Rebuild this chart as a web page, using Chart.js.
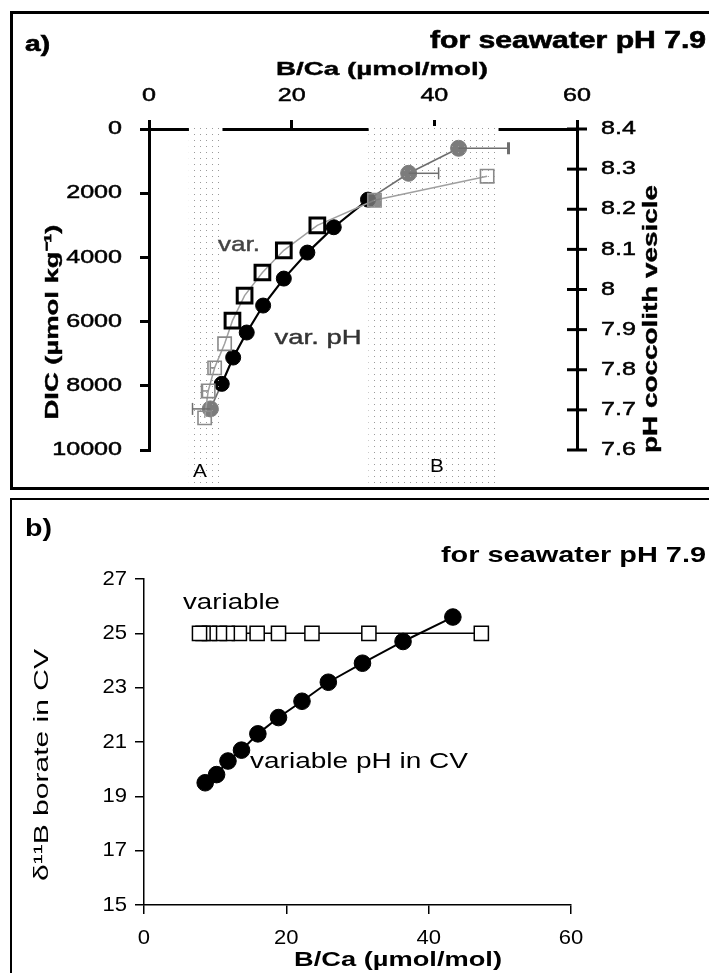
<!DOCTYPE html>
<html>
<head>
<meta charset="utf-8">
<script src="https://cdn.jsdelivr.net/npm/chart.js@4.4.0/dist/chart.umd.min.js"></script>
<style>
  html, body { margin: 0; padding: 0; background: #fff; width: 709px; height: 973px; overflow: hidden; position: relative; }
  canvas { position: absolute; left: 0; }
  #chartA { top: 0; }
  #chartB { top: 490px; }
  .frame { position: absolute; left: 10px; width: 760px; box-sizing: border-box; border: solid #000; }
  #frameA { top: 11px; height: 479px; border-width: 3px; }
  #frameB { top: 498px; height: 520px; border-width: 2px; }
</style>
</head>
<body>
<div class="frame" id="frameA"></div>
<div class="frame" id="frameB"></div>
<canvas id="chartA" width="709" height="490"></canvas>
<canvas id="chartB" width="709" height="483"></canvas>
<script>
// B/Ca and DIC for variable pH in the coccolith vesicle (circles)
const bcaPh   = [43.4, 36.4, 30.7, 25.9, 22.2, 18.9, 16.0, 13.7, 11.8, 10.2, 8.6];
const dicPh   = [600, 1380, 2200, 3060, 3850, 4660, 5500, 6340, 7120, 7940, 8720];
const errPhHi = [7.0, 4.2, 0, 0, 0, 0, 0, 0, 0, 0, 0];
const errPhLo = [0, 0, 0, 0, 0, 0, 0, 0, 0, 0, 2.5];
// B/Ca and DIC for the "variable" case (squares)
const bcaVar   = [47.4, 31.6, 23.6, 18.9, 15.9, 13.4, 11.7, 10.6, 9.2, 8.3, 7.8];
const dicVar   = [1470, 2220, 3000, 3780, 4470, 5190, 5970, 6690, 7440, 8160, 9000];
const errVarLo = [0, 0, 0, 0, 0, 0, 0, 0, 0.6, 0.8, 0];
// d11B of borate in CV (panel b)
const d11bPh  = [25.6, 24.7, 23.9, 23.2, 22.5, 21.9, 21.3, 20.7, 20.3, 19.8, 19.5];
const d11bVar = [25, 25, 25, 25, 25, 25, 25, 25, 25, 25, 25];
// shaded B/Ca ranges
const bandA = [5.6, 10.3];
const bandB = [30.8, 49.0];
// ticks
const bcaTicks  = [0, 20, 40, 60];
const dicTicks  = [0, 2000, 4000, 6000, 8000, 10000];
const phTicks   = [7.6, 7.7, 7.8, 7.9, 8, 8.1, 8.2, 8.3, 8.4];
const d11bTicks = [15, 17, 19, 21, 23, 25, 27];

// point styles (grey = end points, black = middle)
const phCol  = ['#7c7c7c', '#7c7c7c', '#000', '#000', '#000', '#000', '#000', '#000', '#000', '#000', '#7c7c7c'];
const varCol = ['#8a8a8a', '#8a8a8a', '#000', '#000', '#000', '#000', '#000', '#8a8a8a', '#8a8a8a', '#8a8a8a', '#8a8a8a'];

const FONT = '"Liberation Sans", Arial, sans-serif';
const pts = (xs, ys) => xs.map((x, i) => ({ x: x, y: ys[i] }));
const setTicks = arr => s => { s.ticks = arr.map(v => ({ value: v })); };

// stretched text helper: o.w = target width along the text, o.heavy = extra stroke
function txt(ctx, s, x, y, o) {
  ctx.save();
  ctx.font = (o.bold ? 'bold ' : '') + o.size + 'px ' + FONT;
  let sx = o.sx || 1;
  if (o.w) sx = o.w / ctx.measureText(s).width;
  ctx.translate(x, y);
  if (o.rot) ctx.rotate(o.rot);
  ctx.scale(sx, 1);
  ctx.fillStyle = o.color || '#000';
  ctx.textAlign = o.align || 'center';
  ctx.textBaseline = 'middle';
  ctx.fillText(s, 0, 0);
  if (o.heavy) {
    ctx.strokeStyle = o.color || '#000';
    ctx.lineWidth = o.heavy;
    ctx.strokeText(s, 0, 0);
  }
  ctx.restore();
}

function tickLabels(chart, id, at, o, fmt) {
  const sc = chart.scales[id];
  sc.ticks.forEach(t => {
    const p = sc.getPixelForValue(t.value);
    const s = fmt ? fmt(t.value) : String(t.value);
    if (sc.isHorizontal()) txt(chart.ctx, s, p, at, o);
    else txt(chart.ctx, s, at, p, o);
  });
}

function errBars(chart, ds, lo, hi, col, cap) {
  const ctx = chart.ctx, x = chart.scales.x, y = chart.scales.y;
  chart.data.datasets[ds].data.forEach((d, i) => {
    const py = y.getPixelForValue(d.y);
    [[lo[i], -1], [hi[i], 1]].forEach(([e, dir]) => {
      if (!e) return;
      const px = x.getPixelForValue(d.x + dir * e);
      ctx.save();
      ctx.strokeStyle = col; ctx.lineWidth = 1.5;
      ctx.beginPath(); ctx.moveTo(x.getPixelForValue(d.x), py); ctx.lineTo(px, py); ctx.stroke();
      ctx.lineWidth = cap[i] || 1.5;
      ctx.beginPath(); ctx.moveTo(px, py - 6); ctx.lineTo(px, py + 6); ctx.stroke();
      ctx.restore();
    });
  });
}

// dotted fill for the shaded ranges
const dotCanvas = document.createElement('canvas');
dotCanvas.width = 6; dotCanvas.height = 6;
const dg = dotCanvas.getContext('2d');
dg.fillStyle = '#9a9a9a';
dg.fillRect(2, 2, 1, 1);

function bands(chart, withWhite) {
  const ctx = chart.ctx, x = chart.scales.x, top = chart.chartArea.top - 3;
  const pat = ctx.createPattern(dotCanvas, 'repeat');
  [bandA, bandB].forEach(b => {
    const x0 = x.getPixelForValue(b[0]), x1 = x.getPixelForValue(b[1]);
    ctx.save();
    if (withWhite) { ctx.fillStyle = '#fff'; ctx.fillRect(x0, top, x1 - x0, 8); }
    ctx.fillStyle = pat;
    ctx.fillRect(x0, top + 2, x1 - x0, 484 - top);
    ctx.restore();
  });
}

const axisA = { color: '#000', width: 3 };
const gridA = { drawOnChartArea: false, tickLength: 9, color: '#000', lineWidth: 3 };

// ---------- panel a ----------
new Chart(document.getElementById('chartA'), {
  type: 'scatter',
  data: {
    datasets: [{
      label: 'var.',
      data: pts(bcaVar, dicVar),
      showLine: true,
      borderColor: '#a0a0a0',
      borderWidth: 1.5,
      pointStyle: 'rect',
      pointRadius: varCol.map(c => c === '#000' ? 10.4 : 9.4),
      pointBorderWidth: varCol.map(c => c === '#000' ? 3 : 1.6),
      pointBorderColor: varCol,
      pointBackgroundColor: varCol.map((c, i) => i === 1 ? 'rgba(120,120,120,0.85)' : 'rgba(0,0,0,0)')
    }, {
      label: 'var. pH',
      data: pts(bcaPh, dicPh),
      showLine: true,
      borderColor: '#000',
      borderWidth: 2,
      segment: {
        borderColor: c => (phCol[c.p0DataIndex] === '#000' && phCol[c.p1DataIndex] === '#000') ? '#000' : '#6e6e6e',
        borderWidth: c => (phCol[c.p0DataIndex] === '#000' && phCol[c.p1DataIndex] === '#000') ? 2.2 : 1.6
      },
      pointStyle: 'circle',
      pointRadius: phCol.map(c => c === '#000' ? 7.5 : 8),
      pointBorderWidth: 1,
      pointBorderColor: phCol,
      pointBackgroundColor: phCol
    }]
  },
  options: {
    responsive: false,
    animation: false,
    devicePixelRatio: 1,
    layout: { padding: { left: 0, right: 0, top: 0, bottom: 40 } },
    plugins: { legend: { display: false }, tooltip: { enabled: false } },
    scales: {
      x: {
        type: 'linear', position: 'top', min: 0, max: 60,
        afterBuildTicks: setTicks(bcaTicks),
        ticks: { display: false },
        grid: gridA, border: axisA,
        afterFit: s => { s.height = 129; }
      },
      y: {
        type: 'linear', position: 'left', reverse: true, min: 0, max: 10000,
        afterBuildTicks: setTicks(dicTicks),
        ticks: { display: false },
        grid: gridA, border: axisA,
        afterFit: s => { s.width = 149; }
      },
      y2: {
        type: 'linear', position: 'right', min: 7.6, max: 8.4,
        afterBuildTicks: setTicks(phTicks),
        ticks: { display: false },
        grid: { display: false }, border: axisA,
        afterFit: s => { s.width = 132; }
      }
    }
  },
  plugins: [{
    id: 'panelA',
    beforeDatasetsDraw(chart) {
      bands(chart, true);
    },
    afterDatasetsDraw(chart) {
      errBars(chart, 1, errPhLo, errPhHi, '#6e6e6e', [3, 1.5, 0, 0, 0, 0, 0, 0, 0, 0, 1.5]);
      errBars(chart, 0, errVarLo, errVarLo.map(() => 0), '#8a8a8a', []);
      bands(chart, false);
    },
    afterDraw(chart) {
      const ctx = chart.ctx, y2 = chart.scales.y2;
      // crossing ticks on the right axis
      ctx.save();
      ctx.strokeStyle = '#000'; ctx.lineWidth = 3;
      y2.ticks.forEach(t => {
        const p = y2.getPixelForValue(t.value);
        ctx.beginPath(); ctx.moveTo(y2.left - 10, p); ctx.lineTo(y2.left + 10, p); ctx.stroke();
      });
      ctx.restore();

      const tk = { size: 19, sx: 1.32, heavy: 0.5 };
      tickLabels(chart, 'x', 96, tk);
      tickLabels(chart, 'y', 122, Object.assign({ align: 'right' }, tk));
      tickLabels(chart, 'y2', 601, Object.assign({ align: 'left' }, tk), v => String(Math.round(v * 10) / 10));

      txt(ctx, 'a)', 25, 45, { size: 22, bold: true, align: 'left', w: 25, heavy: 0.6 });
      txt(ctx, 'for seawater pH 7.9', 706, 42, { size: 23, bold: true, align: 'right', w: 276, heavy: 0.6 });
      txt(ctx, 'B/Ca (\u00b5mol/mol)', 382, 70, { size: 19, bold: true, w: 212, heavy: 0.4 });
      txt(ctx, 'DIC (\u00b5mol kg\u207b\u00b9)', 53, 322, { size: 19, bold: true, rot: -Math.PI / 2, w: 195, heavy: 0.4 });
      txt(ctx, 'pH coccolith vesicle', 651, 319, { size: 20, bold: true, rot: -Math.PI / 2, w: 268, heavy: 0.4 });
      txt(ctx, 'var.', 239, 245, { size: 21, color: '#444', w: 42, heavy: 0.4 });
      txt(ctx, 'var. pH', 318, 338, { size: 21, color: '#333', w: 87, heavy: 0.4 });
      txt(ctx, 'A', 200, 472, { size: 18, sx: 1.15 });
      txt(ctx, 'B', 437, 467, { size: 18, sx: 1.15 });
    }
  }]
});

// ---------- panel b ----------
const axisB = { color: '#000', width: 1.5 };
const gridB = { drawOnChartArea: false, tickLength: 9, color: '#000', lineWidth: 1.5 };

new Chart(document.getElementById('chartB'), {
  type: 'scatter',
  data: {
    datasets: [{
      label: 'variable pH in CV',
      data: pts(bcaPh, d11bPh),
      showLine: true,
      borderColor: '#000',
      borderWidth: 2,
      pointStyle: 'circle',
      pointRadius: 8.3,
      pointBorderWidth: 1,
      pointBorderColor: '#000',
      pointBackgroundColor: '#000'
    }, {
      label: 'variable',
      data: pts(bcaVar, d11bVar),
      showLine: true,
      borderColor: '#000',
      borderWidth: 1.5,
      pointStyle: 'rect',
      pointRadius: 10,
      pointBorderWidth: 1.5,
      pointBorderColor: '#000',
      pointBackgroundColor: '#fff'
    }]
  },
  options: {
    responsive: false,
    animation: false,
    devicePixelRatio: 1,
    layout: { padding: { left: 0, right: 138, top: 89, bottom: 0 } },
    plugins: { legend: { display: false }, tooltip: { enabled: false } },
    scales: {
      x: {
        type: 'linear', position: 'bottom', min: 0, max: 60,
        afterBuildTicks: setTicks(bcaTicks),
        ticks: { display: false },
        grid: gridB, border: axisB,
        afterFit: s => { s.height = 68; }
      },
      y: {
        type: 'linear', position: 'left', min: 15, max: 27,
        afterBuildTicks: setTicks(d11bTicks),
        ticks: { display: false },
        grid: gridB, border: axisB,
        afterFit: s => { s.width = 144; }
      }
    }
  },
  plugins: [{
    id: 'panelB',
    afterDraw(chart) {
      const ctx = chart.ctx;
      const tk = { size: 21, sx: 1.05 };
      tickLabels(chart, 'x', 448, tk);
      tickLabels(chart, 'y', 127, Object.assign({ align: 'right' }, tk));

      txt(ctx, 'b)', 25, 40, { size: 23, bold: true, align: 'left', w: 27 });
      txt(ctx, 'for seawater pH 7.9', 706, 66, { size: 22, bold: true, align: 'right', w: 265 });
      txt(ctx, 'B/Ca (\u00b5mol/mol)', 398, 470, { size: 20, bold: true, w: 208 });
      txt(ctx, '\u03b4\u00b9\u00b9B borate in CV', 42, 275, { size: 20, rot: -Math.PI / 2, w: 232 });
      txt(ctx, 'variable', 183, 113, { size: 22, align: 'left', w: 97 });
      txt(ctx, 'variable pH in CV', 250, 272, { size: 22, align: 'left', w: 218 });
    }
  }]
});
</script>
</body>
</html>
